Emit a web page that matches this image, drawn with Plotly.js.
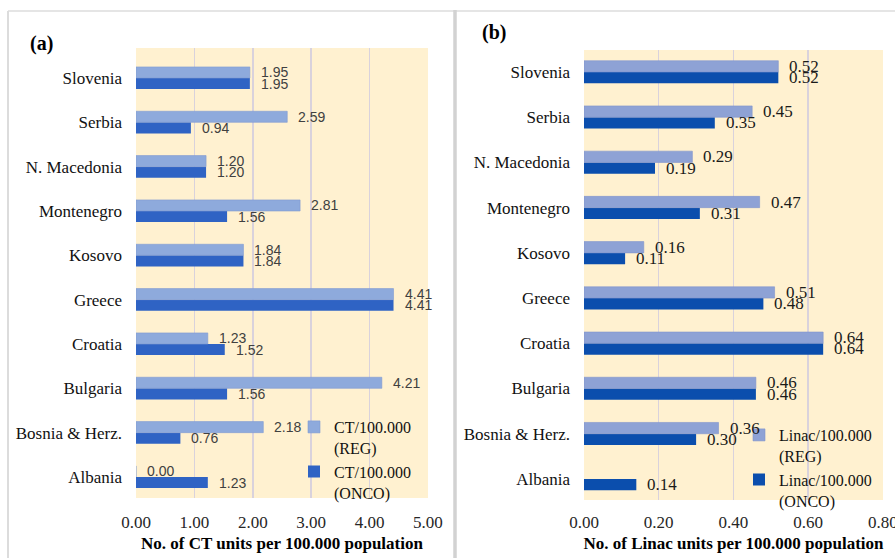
<!DOCTYPE html>
<html>
<head>
<meta charset="utf-8">
<script src="https://cdn.plot.ly/plotly-3.0.1.min.js"></script>
<style>
  html, body { margin: 0; padding: 0; background: #ffffff; }
  #chart { width: 895px; height: 558px; }
</style>
</head>
<body>
<div id="chart"></div>
<script>
// Countries, listed bottom to top as they appear on the category axis
const countries = ['Albania', 'Bosnia & Herz.', 'Bulgaria', 'Croatia', 'Greece',
                   'Kosovo', 'Montenegro', 'N. Macedonia', 'Serbia', 'Slovenia'];

// (a) CT units per 100.000 population
const ctReg  = [0.00, 2.18, 4.21, 1.23, 4.41, 1.84, 2.81, 1.20, 2.59, 1.95];
const ctOnco = [1.23, 0.76, 1.56, 1.52, 4.41, 1.84, 1.56, 1.20, 0.94, 1.95];

// (b) Linac units per 100.000 population (no REG value for Albania)
const linacReg  = [null, 0.36, 0.46, 0.64, 0.51, 0.16, 0.47, 0.29, 0.45, 0.52];
const linacOnco = [0.14, 0.30, 0.46, 0.64, 0.48, 0.11, 0.31, 0.19, 0.35, 0.52];

// Series names
const ctNames    = ['CT/100.000<br>(REG)', 'CT/100.000<br>(ONCO)'];
const linacNames = ['Linac/100.000<br>(REG)', 'Linac/100.000<br>(ONCO)'];

const W = 895, H = 558;
const px = v => v / W;          // horizontal pixel -> paper
const py = v => (H - v) / H;    // vertical pixel (from top) -> paper

const SERIF = 'Liberation Serif, Times New Roman, serif';
const SANS  = 'Liberation Sans, Arial, sans-serif';
const GRID  = '#d9d2dc';

const colors = {
  ctReg: '#8eaadc', ctOnco: '#2f63c4',
  liReg: '#8ea2d5', liOnco: '#0b4ead'
};

// ONCO is drawn first so it sits in the lower half of each group
const traces = [
  { type: 'bar', orientation: 'h', name: ctNames[1], x: ctOnco, y: countries,
    xaxis: 'x', yaxis: 'y', legend: 'legend',
    marker: { color: colors.ctOnco }, hoverinfo: 'x+y' },
  { type: 'bar', orientation: 'h', name: ctNames[0], x: ctReg, y: countries,
    xaxis: 'x', yaxis: 'y', legend: 'legend',
    marker: { color: colors.ctReg, line: { color: '#7f9bd2', width: 0.6 } }, hoverinfo: 'x+y' },
  { type: 'bar', orientation: 'h', name: linacNames[1], x: linacOnco, y: countries,
    xaxis: 'x2', yaxis: 'y2', legend: 'legend2',
    marker: { color: colors.liOnco }, hoverinfo: 'x+y' },
  { type: 'bar', orientation: 'h', name: linacNames[0], x: linacReg, y: countries,
    xaxis: 'x2', yaxis: 'y2', legend: 'legend2',
    marker: { color: colors.liReg, line: { color: '#8094cc', width: 0.6 } }, hoverinfo: 'x+y' }
];

// Value labels next to the bar ends
const annotations = [];
function addLabels(values, offset, xref, yref, font) {
  values.forEach((v, i) => {
    if (v === null) return;
    annotations.push({
      xref: xref, yref: yref, x: v, y: i + offset,
      text: v.toFixed(2), showarrow: false,
      xanchor: 'left', yanchor: 'middle', xshift: 9,
      font: font
    });
  });
}
const fontA = { family: SANS, size: 14, color: '#404040' };
const fontB = { family: SERIF, size: 17, color: '#1a1a1a' };
addLabels(ctReg, 0.125, 'x', 'y', fontA);
addLabels(ctOnco, -0.125, 'x', 'y', fontA);
addLabels(linacReg, 0.125, 'x2', 'y2', fontB);
addLabels(linacOnco, -0.125, 'x2', 'y2', fontB);

// Panel letters
annotations.push(
  { xref: 'paper', yref: 'paper', x: px(41), y: py(43), text: '<b>(a)</b>', showarrow: false,
    xanchor: 'center', yanchor: 'middle', font: { family: SERIF, size: 20, color: '#000' } },
  { xref: 'paper', yref: 'paper', x: px(494), y: py(33), text: '<b>(b)</b>', showarrow: false,
    xanchor: 'center', yanchor: 'middle', font: { family: SERIF, size: 20, color: '#000' } }
);

const tickFont = { family: SERIF, size: 17, color: '#262626' };
const catFont  = { family: SERIF, size: 17, color: '#111111' };
const titleFont = { family: SERIF, size: 17, color: '#000000' };

function xAxis(range, dtick, title, domain) {
  return {
    domain: domain, range: range, dtick: dtick, tick0: 0, tickformat: '.2f',
    showgrid: true, gridcolor: GRID, gridwidth: 1.5,
    zeroline: false, showline: false, ticks: '',
    ticklabelstandoff: 12, ticklabeloverflow: 'allow',
    tickfont: tickFont,
    title: { text: '<b>' + title + '</b>', font: titleFont, standoff: 6 },
    fixedrange: true
  };
}
function yAxis(range, domain, anchor) {
  return {
    type: 'category', categoryorder: 'array', categoryarray: countries,
    domain: domain, range: range, anchor: anchor,
    showgrid: false, zeroline: false, showline: false, ticks: '',
    ticklabelstandoff: 13,
    tickfont: catFont, fixedrange: true
  };
}

const layout = {
  width: W, height: H,
  margin: { l: 0, r: 0, t: 0, b: 0 },
  paper_bgcolor: '#ffffff',
  plot_bgcolor: '#fff1d0',
  barmode: 'group', bargap: 0.5, bargroupgap: 0,
  showlegend: true,
  xaxis:  xAxis([0, 5.0005], 1, 'No. of CT units per 100.000 population', [px(136), px(428)]),
  xaxis2: xAxis([0, 0.8001], 0.2, 'No. of Linac units per 100.000 population', [px(584), px(883)]),
  yaxis:  yAxis([-0.474, 9.677], [py(498), py(48)], 'x'),
  yaxis2: yAxis([-0.465, 9.487], [py(500), py(50)], 'x2'),
  legend: {
    x: px(294), y: py(410), xanchor: 'left', yanchor: 'top',
    bgcolor: 'rgba(0,0,0,0)', borderwidth: 0,
    traceorder: 'reversed', valign: 'top', itemwidth: 30, tracegroupgap: 0,
    font: { family: SERIF, size: 16, color: '#111111' }
  },
  legend2: {
    x: px(739), y: py(418), xanchor: 'left', yanchor: 'top',
    bgcolor: 'rgba(0,0,0,0)', borderwidth: 0,
    traceorder: 'reversed', valign: 'top', itemwidth: 30, tracegroupgap: 0,
    font: { family: SERIF, size: 16, color: '#111111' }
  },
  annotations: annotations,
  shapes: [
    // outer frame: top edge and left edge
    { type: 'line', xref: 'paper', yref: 'paper', x0: px(8), x1: 1, y0: py(11), y1: py(11),
      line: { color: '#dcdcdc', width: 1.5 } },
    { type: 'line', xref: 'paper', yref: 'paper', x0: px(8), x1: px(8), y0: 0, y1: py(11),
      line: { color: '#dcdcdc', width: 2 } },
    // divider between the two panels
    { type: 'line', xref: 'paper', yref: 'paper', x0: px(455), x1: px(455), y0: 0, y1: py(10),
      line: { color: '#d2d2d2', width: 3.5 } }
  ]
};

Plotly.newPlot('chart', traces, layout, { displayModeBar: false, staticPlot: true });
</script>
</body>
</html>
